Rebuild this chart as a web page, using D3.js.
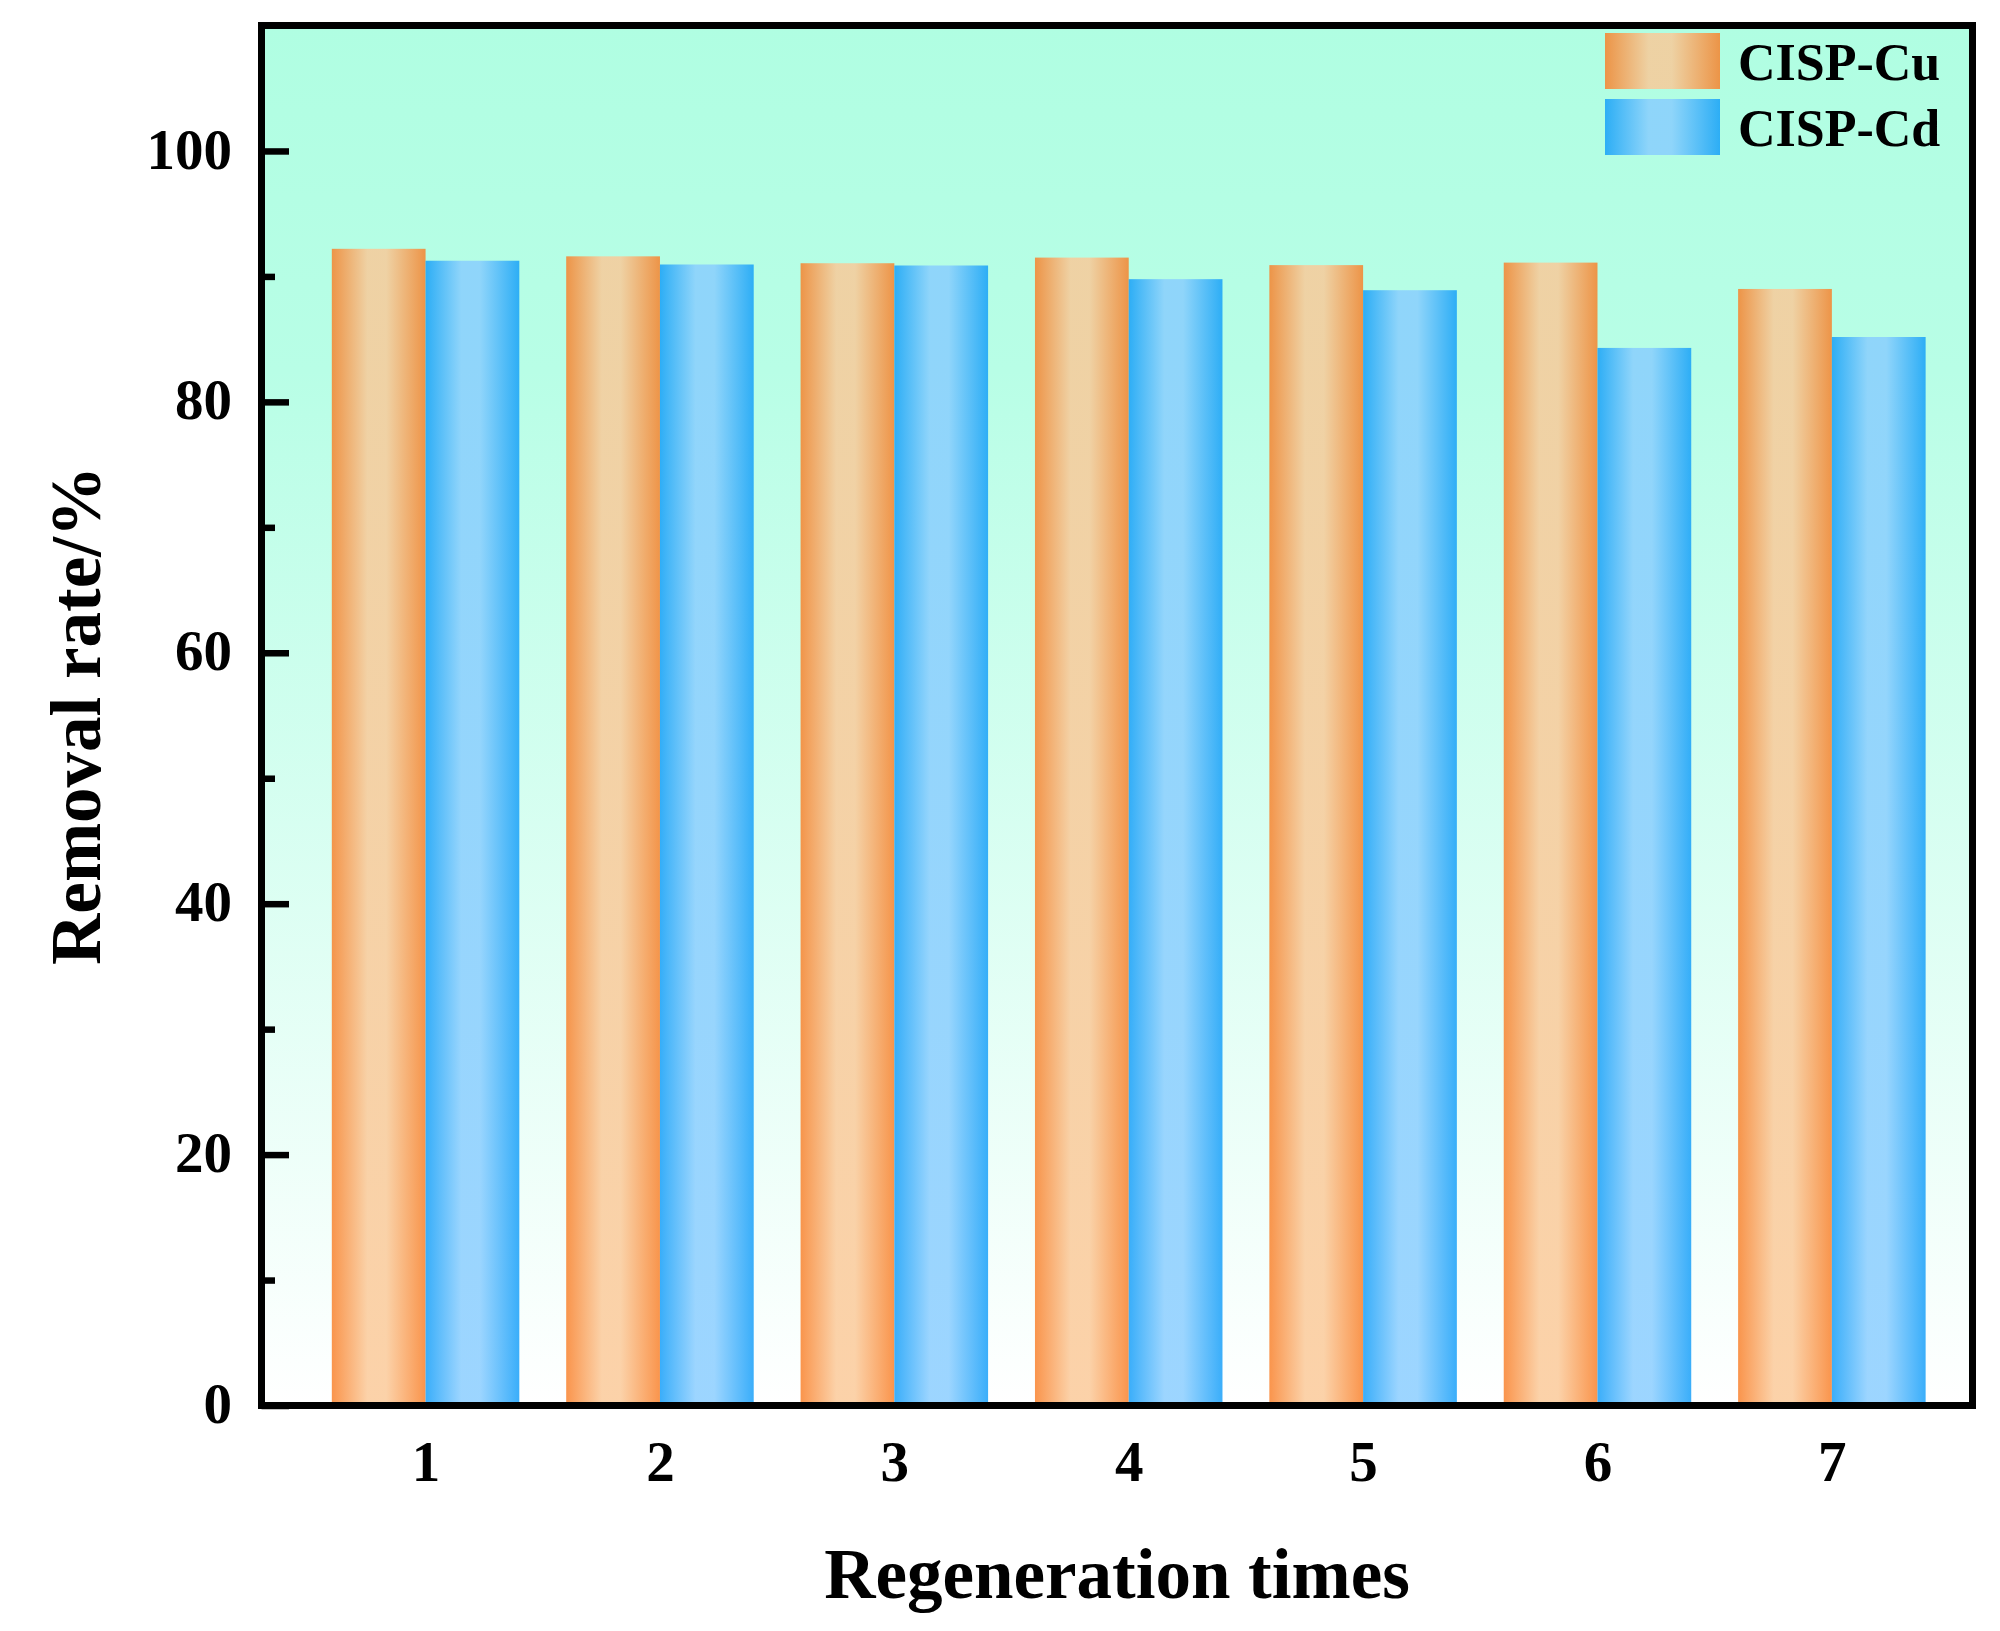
<!DOCTYPE html>
<html>
<head>
<meta charset="utf-8">
<script src="https://cdn.jsdelivr.net/npm/d3@7"></script>
<style>
  html, body { margin: 0; padding: 0; background: #ffffff; }
  svg { display: block; }
  text { font-family: "Liberation Serif", "Times New Roman", serif; font-weight: bold; fill: #000; }
</style>
</head>
<body>
<svg id="chart" width="2000" height="1631"></svg>
<script>
// ---- data ----
const categories = [1, 2, 3, 4, 5, 6, 7];
const seriesNames = ["CISP-Cu", "CISP-Cd"];
const cuValues = [92.2, 91.6, 91.05, 91.5, 90.9, 91.1, 89.0];
const cdValues = [91.25, 90.95, 90.87, 89.78, 88.9, 84.3, 85.17];
const yTicks = [0, 20, 40, 60, 80, 100];
const yMinorTicks = [10, 30, 50, 70, 90];
const xLabel = "Regeneration times";
const yLabel = "Removal rate/%";

// ---- layout ----
const W = 2000, H = 1631;
const L = 261.5, R = 1972.5, T = 25.5, B = 1405.5;

const svg = d3.select("#chart");
const defs = svg.append("defs");

// background gradient (mint -> white)
const bg = defs.append("linearGradient").attr("id", "bgGrad")
  .attr("x1", 0).attr("y1", 0).attr("x2", 0).attr("y2", 1);
bg.append("stop").attr("offset", "0%").attr("stop-color", "#b0fee2");
bg.append("stop").attr("offset", "25%").attr("stop-color", "#b8fee6");
bg.append("stop").attr("offset", "100%").attr("stop-color", "#ffffff");

function barGrad(id, edge, center) {
  const g = defs.append("linearGradient").attr("id", id)
    .attr("x1", 0).attr("y1", 0).attr("x2", 1).attr("y2", 0);
  g.append("stop").attr("offset", "0%").attr("stop-color", edge);
  g.append("stop").attr("offset", "38%").attr("stop-color", center);
  g.append("stop").attr("offset", "58%").attr("stop-color", center);
  g.append("stop").attr("offset", "100%").attr("stop-color", edge);
}
barGrad("cuGrad", "#f97d25", "#fbc896");
barGrad("cdGrad", "#0f9cf9", "#87ccff");

const x = d3.scaleLinear().domain([0.3, 7.6]).range([L, R]);
const y = d3.scaleLinear().domain([0, 110]).range([B, T]);
const barW = 0.4;

// plot background
svg.append("rect").attr("x", L).attr("y", T)
  .attr("width", R - L).attr("height", B - T)
  .attr("fill", "url(#bgGrad)");

// bars
const gBars = svg.append("g");
gBars.selectAll("rect.cu").data(categories).join("rect")
  .attr("class", "cu")
  .attr("x", (d) => x(d - barW))
  .attr("width", (d) => x(d) - x(d - barW))
  .attr("y", (d, i) => y(cuValues[i]))
  .attr("height", (d, i) => y(0) - y(cuValues[i]))
  .attr("fill", "url(#cuGrad)")
  .attr("fill-opacity", 0.82);
gBars.selectAll("rect.cd").data(categories).join("rect")
  .attr("class", "cd")
  .attr("x", (d) => x(d))
  .attr("width", (d) => x(d + barW) - x(d))
  .attr("y", (d, i) => y(cdValues[i]))
  .attr("height", (d, i) => y(0) - y(cdValues[i]))
  .attr("fill", "url(#cdGrad)")
  .attr("fill-opacity", 0.82);

// y axis (major ticks inward)
const yAxis = d3.axisLeft(y).tickValues(yTicks).tickSize(-27.5).tickPadding(29.5)
  .tickFormat(d3.format("d"));
const gy = svg.append("g").attr("transform", `translate(${L},0)`).call(yAxis);
gy.select(".domain").remove();
gy.selectAll(".tick line").attr("stroke", "#000").attr("stroke-width", 6.5);
gy.selectAll(".tick text").attr("font-size", 57).attr("dy", "0.3em")
  .style("font-family", '"Liberation Serif", "Times New Roman", serif').style("font-weight", "bold");

// minor ticks
const yMinor = d3.axisLeft(y).tickValues(yMinorTicks).tickSize(-13.5).tickFormat("");
const gym = svg.append("g").attr("transform", `translate(${L},0)`).call(yMinor);
gym.select(".domain").remove();
gym.selectAll(".tick line").attr("stroke", "#000").attr("stroke-width", 6.5);

// x axis labels
const xAxis = d3.axisBottom(x).tickValues(categories).tickSize(0).tickPadding(35)
  .tickFormat(d3.format("d"));
const gx = svg.append("g").attr("transform", `translate(0,${B})`).call(xAxis);
gx.select(".domain").remove();
gx.selectAll(".tick text").attr("font-size", 57)
  .style("font-family", '"Liberation Serif", "Times New Roman", serif').style("font-weight", "bold");

// frame
svg.append("rect").attr("x", L).attr("y", T)
  .attr("width", R - L).attr("height", B - T)
  .attr("fill", "none").attr("stroke", "#000").attr("stroke-width", 7);

// axis titles
svg.append("text").attr("x", (L + R) / 2).attr("y", 1598)
  .attr("text-anchor", "middle").attr("font-size", 71).text(xLabel);
svg.append("text")
  .attr("transform", `translate(100,${(T + B) / 2}) rotate(-90)`)
  .attr("text-anchor", "middle").attr("font-size", 71).text(yLabel);

// legend
const legend = svg.append("g");
const legFills = ["url(#cuGrad)", "url(#cdGrad)"];
const legY = [33, 99];
seriesNames.forEach((name, i) => {
  legend.append("rect").attr("x", 1605).attr("y", legY[i])
    .attr("width", 115).attr("height", 56)
    .attr("fill", legFills[i]).attr("fill-opacity", 0.82);
  legend.append("text").attr("x", 1738).attr("y", legY[i] + 47)
    .attr("font-size", 52).text(name);
});
</script>
</body>
</html>
